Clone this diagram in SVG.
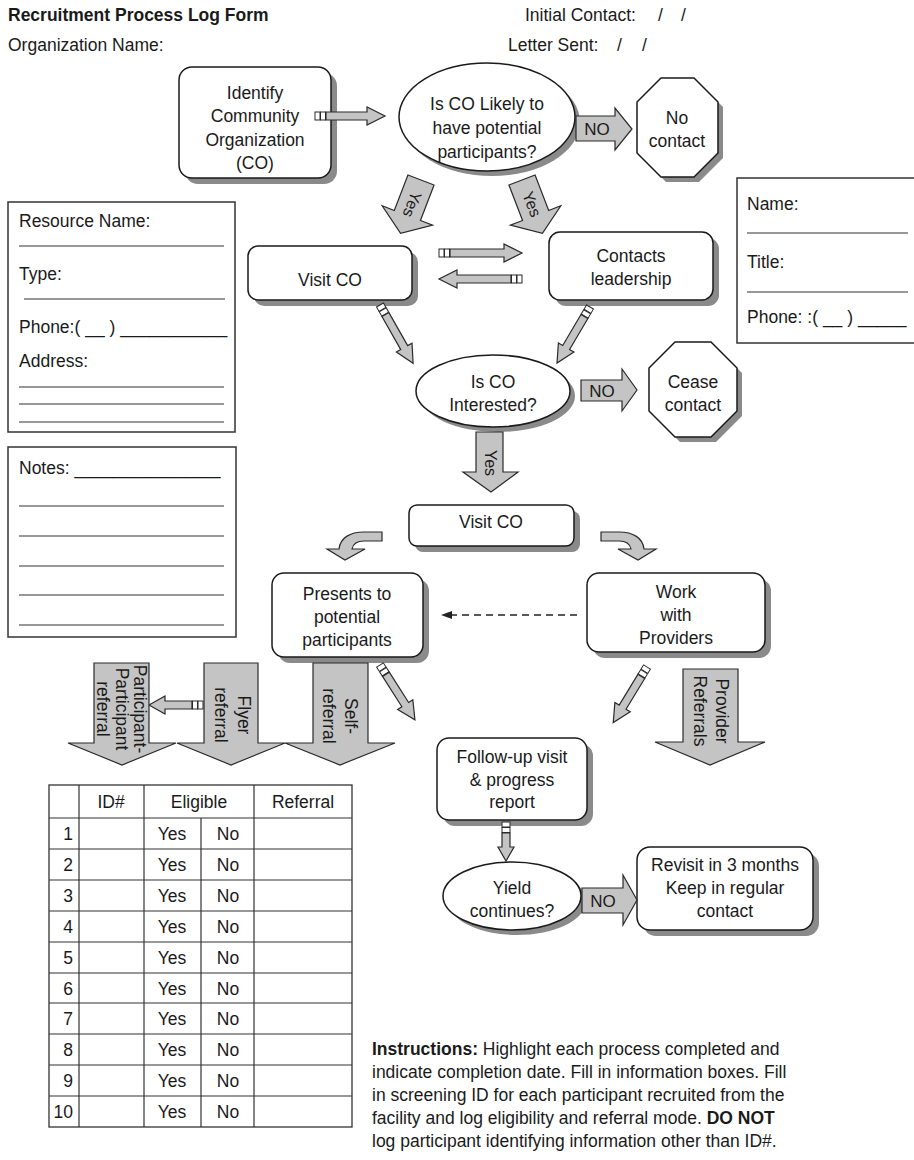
<svg xmlns="http://www.w3.org/2000/svg" width="914" height="1160" viewBox="0 0 914 1160">
<style>
.t{font-family:"Liberation Sans",Arial,sans-serif;font-size:17.5px;fill:#1a1a1a}
.c{text-anchor:middle}
.b{font-weight:bold}
.s16{font-size:16px}
.s17{font-size:17px}
.box{fill:#fff;stroke:#1a1a1a;stroke-width:1.5}
.sh{fill:#8a8a8a}
.ga{fill:#c4c4c4;stroke:#2a2a2a;stroke-width:1.2}
.st{fill:#fff;stroke:#2a2a2a;stroke-width:1}
.ln{stroke:#333;stroke-width:1.2;fill:none}
.frm{fill:#fff;stroke:#333;stroke-width:1.5}
</style>
<rect width="914" height="1160" fill="#fff"/>

<g id="header">
<text class="t b" x="8" y="21">Recruitment Process Log Form</text>
<text class="t" x="8" y="51">Organization Name:</text>
<text class="t" x="525" y="21">Initial Contact:<tspan x="658">/</tspan><tspan x="681">/</tspan></text>
<text class="t" x="508" y="51">Letter Sent:<tspan x="617">/</tspan><tspan x="642">/</tspan></text>
</g>

<g id="resource-box">
<rect class="frm" x="8" y="202" width="227" height="230"/>
<text class="t" x="19" y="227">Resource Name:</text>
<line class="ln" x1="19" y1="246" x2="224" y2="246"/>
<text class="t" x="19" y="280">Type:</text>
<line class="ln" x1="24" y1="299" x2="225" y2="299"/>
<text class="t" x="19" y="333">Phone:( __ ) ___________</text>
<text class="t" x="19" y="367">Address:</text>
<line class="ln" x1="19" y1="387" x2="224" y2="387"/>
<line class="ln" x1="19" y1="404" x2="224" y2="404"/>
<line class="ln" x1="19" y1="422" x2="224" y2="422"/>
</g>

<g id="notes-box">
<rect class="frm" x="8" y="447" width="228" height="190"/>
<text class="t" x="19" y="474">Notes: _______________</text>
<line class="ln" x1="19" y1="506" x2="224" y2="506"/>
<line class="ln" x1="19" y1="536" x2="224" y2="536"/>
<line class="ln" x1="19" y1="566" x2="224" y2="566"/>
<line class="ln" x1="19" y1="595" x2="224" y2="595"/>
<line class="ln" x1="19" y1="625" x2="224" y2="625"/>
</g>

<g id="contact-box">
<rect class="frm" x="737" y="178" width="200" height="165"/>
<text class="t" x="747" y="210">Name:</text>
<line class="ln" x1="747" y1="233" x2="908" y2="233"/>
<text class="t" x="747" y="268">Title:</text>
<line class="ln" x1="747" y1="292" x2="908" y2="292"/>
<text class="t" x="747" y="323">Phone: :( __ ) _____</text>
</g>

<g id="n-identify">
<rect class="sh" x="185" y="73" width="152" height="111" rx="13"/>
<rect class="box" x="179" y="67" width="152" height="111" rx="13"/>
<text class="t c" x="255" y="99">Identify</text>
<text class="t c" x="255" y="122">Community</text>
<text class="t c" x="255" y="146">Organization</text>
<text class="t c" x="255" y="169">(CO)</text>
</g>

<g id="n-likely">
<ellipse class="sh" cx="492" cy="122" rx="88" ry="54"/>
<ellipse class="box" cx="487" cy="117" rx="88" ry="54"/>
<text class="t c" x="487" y="110">Is CO Likely to</text>
<text class="t c" x="487" y="134">have potential</text>
<text class="t c" x="487" y="158">participants?</text>
</g>

<g id="n-nocontact">
<polygon class="sh" points="666,83 699,83 723,107 723,158 699,182 666,182 642,158 642,107"/>
<polygon class="box" points="661,78 694,78 718,102 718,153 694,177 661,177 637,153 637,102"/>
<text class="t c" x="677" y="124">No</text>
<text class="t c" x="677" y="147">contact</text>
</g>

<g id="n-visit1">
<rect class="sh" x="254" y="252" width="164" height="54" rx="10"/>
<rect class="box" x="248" y="246" width="164" height="54" rx="10"/>
<text class="t c" x="330" y="286">Visit CO</text>
</g>

<g id="n-contacts">
<rect class="sh" x="555" y="238" width="164" height="68" rx="11"/>
<rect class="box" x="549" y="232" width="164" height="68" rx="11"/>
<text class="t c" x="631" y="262">Contacts</text>
<text class="t c" x="631" y="285">leadership</text>
</g>

<g id="n-interested">
<ellipse class="sh" cx="498" cy="396" rx="77" ry="36"/>
<ellipse class="box" cx="493" cy="391" rx="77" ry="36"/>
<text class="t c" x="493" y="388">Is CO</text>
<text class="t c" x="493" y="411">Interested?</text>
</g>

<g id="n-cease">
<polygon class="sh" points="680,347 716,347 742,373 742,416 716,442 680,442 654,416 654,373"/>
<polygon class="box" points="675,342 711,342 737,368 737,411 711,437 675,437 649,411 649,368"/>
<text class="t c" x="693" y="388">Cease</text>
<text class="t c" x="693" y="411">contact</text>
</g>

<g id="n-visit2">
<rect class="sh" x="415" y="511" width="165" height="41" rx="8"/>
<rect class="box" x="409" y="505" width="165" height="41" rx="8"/>
<text class="t c" x="491" y="528">Visit CO</text>
</g>

<g id="n-presents">
<rect class="sh" x="278" y="579" width="151" height="84" rx="12"/>
<rect class="box" x="272" y="573" width="151" height="84" rx="12"/>
<text class="t c" x="347" y="600">Presents to</text>
<text class="t c" x="347" y="623">potential</text>
<text class="t c" x="347" y="646">participants</text>
</g>

<g id="n-work">
<rect class="sh" x="593" y="579" width="178" height="79" rx="12"/>
<rect class="box" x="587" y="573" width="178" height="79" rx="12"/>
<text class="t c" x="676" y="598">Work</text>
<text class="t c" x="676" y="621">with</text>
<text class="t c" x="676" y="644">Providers</text>
</g>

<g id="n-followup">
<rect class="sh" x="443" y="744" width="150" height="82" rx="12"/>
<rect class="box" x="437" y="738" width="150" height="82" rx="12"/>
<text class="t c" x="512" y="763">Follow-up visit</text>
<text class="t c" x="512" y="786">&amp; progress</text>
<text class="t c" x="512" y="808">report</text>
</g>

<g id="n-yield">
<ellipse class="sh" cx="517" cy="901" rx="69" ry="34"/>
<ellipse class="box" cx="512" cy="896" rx="69" ry="34"/>
<text class="t c" x="512" y="894">Yield</text>
<text class="t c" x="512" y="917">continues?</text>
</g>

<g id="n-revisit">
<rect class="sh" x="643" y="853" width="176" height="83" rx="13"/>
<rect class="box" x="637" y="847" width="176" height="83" rx="13"/>
<text class="t c" x="725" y="871">Revisit in 3 months</text>
<text class="t c" x="725" y="894">Keep in regular</text>
<text class="t c" x="725" y="917">contact</text>
</g>

<g id="connectors">
<g transform="translate(315,116)"><rect class="st" x="0" y="-4" width="5" height="8"/><rect class="st" x="5.5" y="-4" width="5" height="8"/><path class="ga" d="M11,-4 H52 V-9 L70,0 L52,9 V4 H11 Z"/></g>
<g transform="translate(439,253)"><rect class="st" x="0" y="-4" width="5" height="8"/><rect class="st" x="5.5" y="-4" width="5" height="8"/><path class="ga" d="M11,-4 H65 V-9 L83,0 L65,9 V4 H11 Z"/></g>
<g transform="translate(522,279) rotate(180)"><rect class="st" x="0" y="-4" width="5" height="8"/><rect class="st" x="5.5" y="-4" width="5" height="8"/><path class="ga" d="M11,-4 H65 V-9 L83,0 L65,9 V4 H11 Z"/></g>
<g transform="translate(380,305) rotate(60.4)"><rect class="st" x="0" y="-4" width="5" height="8"/><rect class="st" x="5.5" y="-4" width="5" height="8"/><path class="ga" d="M11,-4 H49 V-9 L67,0 L49,9 V4 H11 Z"/></g>
<g transform="translate(590,307) rotate(120.5)"><rect class="st" x="0" y="-4" width="5" height="8"/><rect class="st" x="5.5" y="-4" width="5" height="8"/><path class="ga" d="M11,-4 H47 V-9 L65,0 L47,9 V4 H11 Z"/></g>
<g transform="translate(380,665) rotate(57.5)"><rect class="st" x="0" y="-4" width="5" height="8"/><rect class="st" x="5.5" y="-4" width="5" height="8"/><path class="ga" d="M11,-4 H47 V-9 L65,0 L47,9 V4 H11 Z"/></g>
<g transform="translate(647,667) rotate(121.3)"><rect class="st" x="0" y="-4" width="5" height="8"/><rect class="st" x="5.5" y="-4" width="5" height="8"/><path class="ga" d="M11,-4 H47 V-9 L65,0 L47,9 V4 H11 Z"/></g>
<g transform="translate(203,705) rotate(180)"><rect class="st" x="0" y="-4" width="5" height="8"/><rect class="st" x="5.5" y="-4" width="5" height="8"/><path class="ga" d="M11,-4 H38 V-9 L54,0 L38,9 V4 H11 Z"/></g>
<g transform="translate(506,822) rotate(90)"><rect class="st" x="0" y="-4" width="5" height="8"/><rect class="st" x="5.5" y="-4" width="5" height="8"/><path class="ga" d="M11,-4 H25 V-8 L39,0 L25,8 V4 H11 Z"/></g>

<path class="ga" d="M576,116 H615 V108 L632,129 L615,150 V141 H576 Z"/>
<text class="t c s17" x="597" y="135">NO</text>
<path class="ga" d="M581,380 H622 V369 L637,390 L622,411 V401 H581 Z"/>
<text class="t c s17" x="602" y="397">NO</text>
<path class="ga" d="M582,888 H623 V875 L637,900 L623,925 V913 H582 Z"/>
<text class="t c s17" x="603" y="907">NO</text>

<g transform="translate(421,180) rotate(21)">
<path class="ga" d="M-14,0 H14 V38 H27 L0,57 L-27,38 H-14 Z"/>
<text class="t c s16" transform="translate(-5,26) rotate(90)">Yes</text>
</g>
<g transform="translate(522,180) rotate(-21)">
<path class="ga" d="M-14,0 H14 V38 H27 L0,57 L-27,38 H-14 Z"/>
<text class="t c s16" transform="translate(-5,26) rotate(90)">Yes</text>
</g>
<path class="ga" d="M476,432 H503 V472 H518 L491,492 L463,472 H476 Z"/>
<text class="t c s16" transform="translate(485,463) rotate(90)">Yes</text>

<path class="ga" d="M382,532 L364,532 C350,532 340,538 339,549 L327,549 L345,560 L365,549 L352,549 C353,544 357,541 364,541 L382,541 Z"/>
<path class="ga" d="M601,532 L619,532 C633,532 643,538 644,549 L656,549 L638,560 L618,549 L631,549 C630,544 626,541 619,541 L601,541 Z"/>

<line x1="577" y1="615" x2="450" y2="615" stroke="#222" stroke-width="1.3" stroke-dasharray="7,5"/>
<polygon points="441,615 452,611 452,619" fill="#222"/>

<path class="ga" d="M94,663 H149 V743 H176 L122,765 L68,743 H94 Z"/>
<path class="ga" d="M204,663 H258 V743 H285 L231,765 L177,743 H204 Z"/>
<path class="ga" d="M313,663 H368 V743 H395 L340,765 L285,743 H313 Z"/>
<path class="ga" d="M683,669 H738 V742 H765 L710,765 L655,742 H683 Z"/>
<text class="t c" transform="translate(134,709) rotate(90)">Participant-</text>
<text class="t c" transform="translate(116,709) rotate(90)">Participant</text>
<text class="t c" transform="translate(97,709) rotate(90)">referral</text>
<text class="t c" transform="translate(238,715) rotate(90)">Flyer</text>
<text class="t c" transform="translate(215,715) rotate(90)">referral</text>
<text class="t c" transform="translate(345,716) rotate(90)">Self-</text>
<text class="t c" transform="translate(323,716) rotate(90)">referral</text>
<text class="t c" transform="translate(716,711) rotate(90)">Provider</text>
<text class="t c" transform="translate(694,711) rotate(90)">Referrals</text>
</g>

<g id="table">
<rect x="49" y="785" width="303" height="342" fill="#fff" stroke="#333" stroke-width="1.3"/>
<g class="ln">
<line x1="49" y1="818" x2="352" y2="818"/>
<line x1="49" y1="849" x2="352" y2="849"/>
<line x1="49" y1="880" x2="352" y2="880"/>
<line x1="49" y1="911" x2="352" y2="911"/>
<line x1="49" y1="942" x2="352" y2="942"/>
<line x1="49" y1="973" x2="352" y2="973"/>
<line x1="49" y1="1003" x2="352" y2="1003"/>
<line x1="49" y1="1034" x2="352" y2="1034"/>
<line x1="49" y1="1065" x2="352" y2="1065"/>
<line x1="49" y1="1096" x2="352" y2="1096"/>
<line x1="79" y1="785" x2="79" y2="1127"/>
<line x1="144" y1="785" x2="144" y2="1127"/>
<line x1="201" y1="818" x2="201" y2="1127"/>
<line x1="254" y1="785" x2="254" y2="1127"/>
</g>
<text class="t c" x="111" y="808">ID#</text>
<text class="t c" x="199" y="808">Eligible</text>
<text class="t c" x="303" y="808">Referral</text>
<g class="t">
<text x="73" y="840" text-anchor="end">1</text><text x="172" y="840" text-anchor="middle">Yes</text><text x="228" y="840" text-anchor="middle">No</text>
<text x="73" y="871" text-anchor="end">2</text><text x="172" y="871" text-anchor="middle">Yes</text><text x="228" y="871" text-anchor="middle">No</text>
<text x="73" y="902" text-anchor="end">3</text><text x="172" y="902" text-anchor="middle">Yes</text><text x="228" y="902" text-anchor="middle">No</text>
<text x="73" y="933" text-anchor="end">4</text><text x="172" y="933" text-anchor="middle">Yes</text><text x="228" y="933" text-anchor="middle">No</text>
<text x="73" y="964" text-anchor="end">5</text><text x="172" y="964" text-anchor="middle">Yes</text><text x="228" y="964" text-anchor="middle">No</text>
<text x="73" y="995" text-anchor="end">6</text><text x="172" y="995" text-anchor="middle">Yes</text><text x="228" y="995" text-anchor="middle">No</text>
<text x="73" y="1025" text-anchor="end">7</text><text x="172" y="1025" text-anchor="middle">Yes</text><text x="228" y="1025" text-anchor="middle">No</text>
<text x="73" y="1056" text-anchor="end">8</text><text x="172" y="1056" text-anchor="middle">Yes</text><text x="228" y="1056" text-anchor="middle">No</text>
<text x="73" y="1087" text-anchor="end">9</text><text x="172" y="1087" text-anchor="middle">Yes</text><text x="228" y="1087" text-anchor="middle">No</text>
<text x="73" y="1118" text-anchor="end">10</text><text x="172" y="1118" text-anchor="middle">Yes</text><text x="228" y="1118" text-anchor="middle">No</text>
</g>
</g>

<g id="instructions" class="t">
<text x="372" y="1055"><tspan font-weight="bold">Instructions:</tspan> Highlight each process completed and</text>
<text x="372" y="1078">indicate completion date. Fill in information boxes. Fill</text>
<text x="372" y="1101">in screening ID for each participant recruited from the</text>
<text x="372" y="1124">facility and log eligibility and referral mode. <tspan font-weight="bold">DO NOT</tspan></text>
<text x="372" y="1147">log participant identifying information other than ID#.</text>
</g>
</svg>
